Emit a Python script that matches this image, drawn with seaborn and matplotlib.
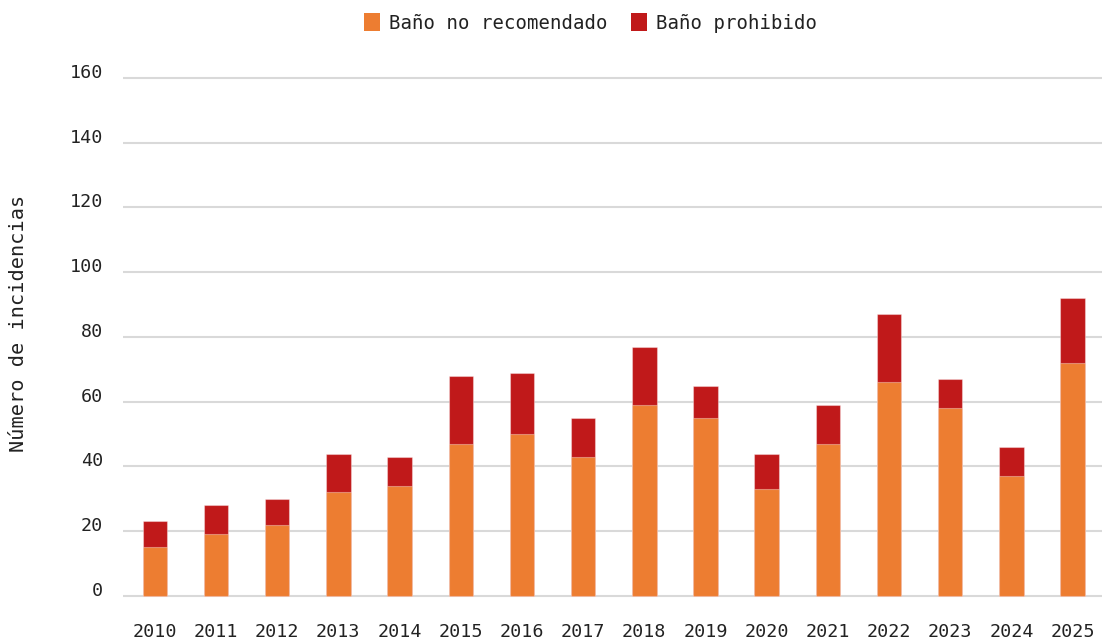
import matplotlib
matplotlib.use("Agg")
import matplotlib.pyplot as plt
import seaborn as sns
import pandas as pd
from matplotlib.patches import Patch

# data
years = ["2010", "2011", "2012", "2013", "2014", "2015", "2016", "2017",
         "2018", "2019", "2020", "2021", "2022", "2023", "2024", "2025"]
no_recomendado = [15, 19, 22, 32, 34, 47, 50, 43, 59, 55, 33, 47, 66, 58, 37, 72]
prohibido = [8, 9, 8, 12, 9, 21, 19, 12, 18, 10, 11, 12, 21, 9, 9, 20]

ORANGE = "#ED7D31"
RED = "#C0191A"


def main():
    df = pd.DataFrame({"year": years,
                       "no_rec": no_recomendado,
                       "prohib": prohibido})
    df["total"] = df["no_rec"] + df["prohib"]

    sns.set_style("white")
    plt.rcParams["font.family"] = ["DejaVu Sans Mono", "DejaVu Sans"]
    plt.rcParams["font.size"] = 13

    fig = plt.figure(figsize=(11.02, 6.39), dpi=100)
    ax = fig.add_axes([0.1116, 0.0623, 0.8884, 0.8258])

    edge = (1, 1, 1, 0.35)
    # stacked: total in red behind, orange base on top
    sns.barplot(data=df, x="year", y="total", order=years, color=RED,
                width=0.4, edgecolor=edge, linewidth=0.8, saturation=1,
                ax=ax)
    sns.barplot(data=df, x="year", y="no_rec", order=years, color=ORANGE,
                width=0.4, edgecolor=edge, linewidth=0.8, saturation=1,
                ax=ax)

    ax.set_xlim(-0.52, 15.48)
    ax.set_ylim(-1, 162)
    ax.set_yticks(range(0, 161, 20))
    ax.set_axisbelow(True)
    ax.yaxis.grid(True, color="#d9d9d9", linewidth=1.5)
    ax.xaxis.grid(False)
    for s in ax.spines.values():
        s.set_visible(False)

    ax.tick_params(axis="x", length=0, pad=17, labelsize=13.2, colors="#222222")
    ax.tick_params(axis="y", length=0, pad=14.4, labelsize=13.2, colors="#222222")
    for lab in ax.get_yticklabels():
        lab.set_va("baseline")

    ax.set_xlabel("")
    ax.set_ylabel("Número de incidencias", fontsize=14.6, color="#222222")
    ax.yaxis.set_label_coords(-0.097, 0.523)

    handles = [Patch(facecolor=ORANGE, edgecolor="none"),
               Patch(facecolor=RED, edgecolor="none")]
    fig.legend(handles, ["Baño no recomendado", "Baño prohibido"],
               loc="center", bbox_to_anchor=(0.536, 0.964), ncol=2,
               frameon=False, fontsize=13.7, handlelength=0.85,
               handleheight=1.05, handletextpad=0.45, columnspacing=1.25,
               borderpad=0, labelcolor="#222222")

    fig.savefig("out.png", dpi=100)
    plt.close(fig)


if __name__ == "__main__":
    main()
